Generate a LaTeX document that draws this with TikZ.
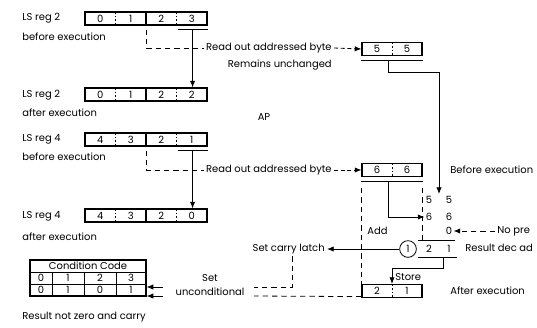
\documentclass[tikz,border=0pt]{standalone}
\usepackage{fontspec}
\setmainfont{Poppins}
\usetikzlibrary{arrows.meta, positioning, calc}

\newcommand{\regcell}[1]{\makebox[0.915cm]{#1}}
\newcommand{\halfcell}[1]{\makebox[0.9cm]{#1}}

\begin{document}
\begin{tikzpicture}[
    x=0.03cm, y=-0.03cm,
    font=\fontsize{8.5}{10}\selectfont,
    reg/.style={draw, line width=1pt, minimum width=3.66cm, 
                minimum height=0.39cm, inner sep=0pt,
                path picture={
                  \draw[line width=1pt] (path picture bounding box.north) 
                       -- (path picture bounding box.south);
                  \draw[line width=0.6pt, dash pattern=on 1.5pt off 1.5pt]
                       ($(path picture bounding box.north west)!0.25!(path picture bounding box.north east)$)
                    -- ($(path picture bounding box.south west)!0.25!(path picture bounding box.south east)$);
                  \draw[line width=0.6pt, dash pattern=on 1.5pt off 1.5pt]
                       ($(path picture bounding box.north west)!0.75!(path picture bounding box.north east)$)
                    -- ($(path picture bounding box.south west)!0.75!(path picture bounding box.south east)$);
                }},
    halfreg/.style={draw, line width=1pt, minimum width=1.8cm, 
                    minimum height=0.39cm, inner sep=0pt,
                    path picture={
                      \draw[line width=0.6pt, dash pattern=on 1.5pt off 1.5pt] 
                           (path picture bounding box.north) -- (path picture bounding box.south);
                    }},
    lbl/.style={anchor=west, inner sep=0pt, outer sep=2pt},
    lble/.style={anchor=east, inner sep=0pt, outer sep=2pt},
    dig/.style={inner sep=1pt},
    conn/.style={line width=0.7pt},
    arrow/.style={-{Latex[length=2mm, width=1.6mm]}, line width=0.7pt},
    dashedline/.style={line width=0.7pt, dash pattern=on 1.6mm off 1.2mm},
    dashedarrow/.style={dashedline, -{Latex[length=2mm, width=1.6mm]}}
]
\useasboundingbox (0,0) rectangle (537,327);

% --- LS reg 2 ---
\node[lbl] (ls2b) at (20,18) {LS reg 2};
\node[lbl] (ls2bt) at (20,37) {before execution};
\node[reg] (reg2b) at (146,18.5) {\regcell{0}\regcell{1}\regcell{2}\regcell{3}};

\node[lbl] (ls2a) at (20,95) {LS reg 2};
\node[lbl] (ls2at) at (20,113) {after execution};
\node[reg] (reg2a) at (146,94.5) {\regcell{0}\regcell{1}\regcell{2}\regcell{2}};

\draw[conn] ($(reg2b.south east)+(-30,4)$) -- ($(reg2b.south east)+(0,4)$);
\draw[arrow] ($(reg2b.south east)+(-15,4)$) -- ($(reg2a.north east)+(-15,0)$);

\node[lble] (rd1) at (334,48) {Read out addressed byte};
\node[lble] (rm1) at (334,65) {Remains unchanged};
\node[halfreg] (b55) at (392,49) {\halfcell{5}\halfcell{5}};

\draw[dashedline] ($(reg2b.south)+(0,4)$) |- (rd1.west);
\draw[arrow, dash pattern=on 1.2mm off 0.8mm] (rd1.east) -- (b55.west);
\draw[conn] ($(b55.south west)+(0,4.5)$) -- ($(b55.south east)+(0,4.5)$);

\node (ap) at (264,117) {AP};

% --- LS reg 4 ---
\node[lbl] (ls4b) at (20,139) {LS reg 4};
\node[lbl] (ls4bt) at (20,157) {before execution};
\node[reg] (reg4b) at (146,139.5) {\regcell{4}\regcell{3}\regcell{2}\regcell{1}};

\node[lbl] (ls4a) at (20,216) {LS reg 4};
\node[lbl] (ls4at) at (20,237) {after execution};
\node[reg] (reg4a) at (146,215.5) {\regcell{4}\regcell{3}\regcell{2}\regcell{0}};

\draw[conn] ($(reg4b.south east)+(-30,4)$) -- ($(reg4b.south east)+(0,4)$);
\draw[arrow] ($(reg4b.south east)+(-15,4)$) -- ($(reg4a.north east)+(-15,0)$);

\node[lble] (rd2) at (334,170) {Read out addressed byte};
\node[halfreg] (b66) at (392,170) {\halfcell{6}\halfcell{6}};
\node[lbl] (bex) at (448,170) {Before execution};

\draw[dashedline] ($(reg4b.south)+(0,4)$) |- (rd2.west);
\draw[arrow, dash pattern=on 1.2mm off 0.8mm] (rd2.east) -- (b66.west);
\draw[conn] ($(b66.south west)+(0,4.5)$) -- ($(b66.south east)+(0,4.5)$);

% --- Addition ---
\node[dig] (s5a) at (429,200) {5};
\node[dig] (s5b) at (449,200) {5};
\node[dig] (s6a) at (429,217) {6};
\node[dig] (s6b) at (449,217) {6};
\node[dig] (s0) at (449,231) {0};
\node[draw, circle, line width=0.7pt, minimum size=0.5cm, inner sep=0pt] (rc) at (408,249) {1};
\node[dig] (r2) at (429,249) {2};
\node[dig] (r1) at (449,249) {1};

\coordinate (in5) at (439,194);
\draw[arrow] ($(b55.south)+(-4,4.5)$) -- ++(0,12) -| (in5);
\draw[arrow] ($(b66.south)+(-4,4.5)$) |- (s6a.west);

\node[lbl] (np) at (495,231) {No pre};
\draw[dashedarrow] (np.west) -- (s0.east);

\draw[conn] (418,240) -- (455,240);
\draw[conn] (418,257) -- (457,257);
\node[lbl] (rda) at (463,248) {Result dec ad};

\node[lbl] (add) at (365,231) {Add};
\coordinate (addend) at ($(b66.south east)+(0,63)$);

\node[halfreg] (b21) at (392,291) {\halfcell{2}\halfcell{1}};
\node[lbl] (aex) at (448,291) {After execution};

\draw[dashedline] ($(b66.south west)+(0,11)$) -- (b21.north west);
\draw[dashedline] ($(b66.south east)+(0,11)$) -- (addend);
\draw[arrow] (443,257) -- (443,268) -| (b21.north);
\node[lbl] (st) at (393,277) {Store};

% --- Carry and condition code ---
\node[lble] (scl) at (327,249) {Set carry latch};
\draw[arrow] (rc.west) -- (scl.east);

\node (set) at (210,278) {Set};
\node (unc) at (210,292) {unconditional};

\coordinate (u1) at (254,287);
\coordinate (u2) at (254,296);
\draw[dashedline] ($(scl.south)+(4,0)$) |- (u1);
\draw[dashedline] ($(b21.south west)+(0,-1.5)$) -- (u2);

\node[draw, line width=1pt, minimum width=3.48cm, minimum height=1.08cm, 
      inner sep=0pt] (cc) at (88,278) {};
\draw[conn] (30,272) -- (146,272);
\draw[conn] (30,284) -- (146,284);
\draw[conn] (52,272) -- (52,296);
\draw[conn] (84,272) -- (84,296);
\draw[conn] (116,272) -- (116,296);
\node (cch) at (88,266) {Condition Code};
\node[dig] (c0) at (41,278) {0};
\node[dig] (c1) at (68,278) {1};
\node[dig] (c2) at (100,278) {2};
\node[dig] (c3) at (131,278) {3};
\node[dig] (d0) at (41,290) {0};
\node[dig] (d1) at (68,290) {1};
\node[dig] (d2) at (100,290) {0};
\node[dig] (d3) at (131,290) {1};

\coordinate (v1) at (163,287);
\coordinate (v2) at (163,296);
\draw[arrow] (v1) -- (cc.east |- v1);
\draw[arrow] (v2) -- (cc.east |- v2);

\node[lbl] (res) at (20,317) {Result not zero and carry};

\end{tikzpicture}
\end{document}
